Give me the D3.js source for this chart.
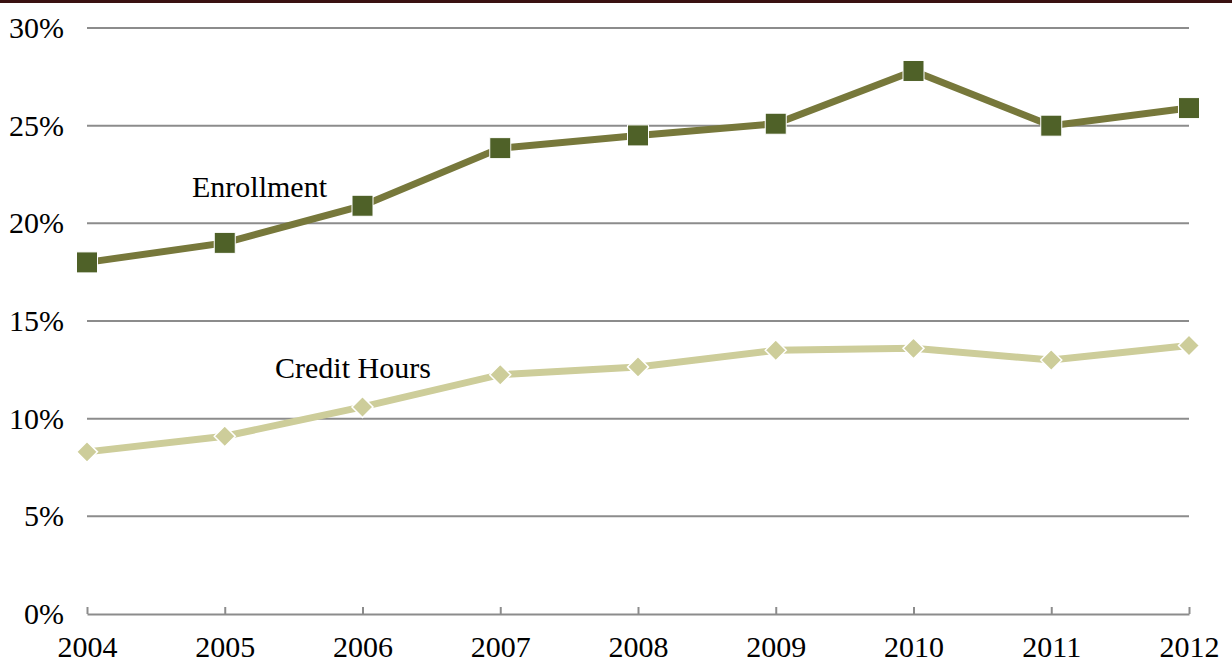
<!DOCTYPE html>
<html>
<head>
<meta charset="utf-8">
<script src="https://cdn.jsdelivr.net/npm/d3@7"></script>
<style>
  body { margin: 0; background: #fff; }
  svg { display: block; font-family: "Liberation Serif", "Times New Roman", serif; }
</style>
</head>
<body>
<svg id="chart" width="1232" height="662"></svg>
<script>
// données
const years = [2004, 2005, 2006, 2007, 2008, 2009, 2010, 2011, 2012];
const enrollment = [18.0, 19.0, 20.9, 23.85, 24.5, 25.1, 27.8, 25.0, 25.9];
const creditHours = [8.3, 9.1, 10.6, 12.25, 12.65, 13.5, 13.6, 13.0, 13.75];
const yTicks = [0, 5, 10, 15, 20, 25, 30];

const svg = d3.select("#chart");
const W = 1232;

// bande sombre en haut
svg.append("rect").attr("x", 0).attr("y", 0).attr("width", W).attr("height", 3).attr("fill", "#3a1212");

const x = d3.scalePoint().domain(years).range([87, 1189]);
const y = d3.scaleLinear().domain([0, 30]).range([614, 28]);

// grille horizontale
svg.append("g")
  .selectAll("line")
  .data(yTicks.filter(d => d > 0))
  .join("line")
  .attr("x1", 87).attr("x2", 1189)
  .attr("y1", d => y(d)).attr("y2", d => y(d))
  .attr("stroke", "#8c8c8c").attr("stroke-width", 2);

// axe Y (étiquettes seulement)
svg.append("g")
  .selectAll("text")
  .data(yTicks)
  .join("text")
  .attr("x", 64)
  .attr("y", d => y(d) + 10)
  .attr("text-anchor", "end")
  .attr("font-size", 30)
  .attr("fill", "#000")
  .text(d => d + "%");

// axe X
const xAxis = svg.append("g")
  .attr("transform", `translate(0,${y(0)})`)
  .call(d3.axisBottom(x).tickSize(-7).tickSizeOuter(0).tickPadding(0));
xAxis.select(".domain").attr("stroke", "#8c8c8c").attr("stroke-width", 2);
xAxis.selectAll(".tick line").attr("stroke", "#8c8c8c").attr("stroke-width", 2);
xAxis.selectAll(".tick text")
  .attr("font-size", 30)
  .attr("font-family", "Liberation Serif, Times New Roman, serif")
  .attr("fill", "#000")
  .attr("dy", null)
  .attr("y", 43);

const line = d3.line().x((d, i) => x(years[i])).y(d => y(d));

// Credit Hours
svg.append("path")
  .datum(creditHours)
  .attr("d", line)
  .attr("fill", "none")
  .attr("stroke", "#cdcd9a")
  .attr("stroke-width", 7);
svg.append("g")
  .selectAll("path")
  .data(creditHours)
  .join("path")
  .attr("transform", (d, i) => `translate(${x(years[i])},${y(d)})`)
  .attr("d", "M0,-10.5L10.5,0L0,10.5L-10.5,0Z")
  .attr("fill", "#cdcd9a")
  .attr("stroke", "#fff")
  .attr("stroke-width", 1.5);

// Enrollment
svg.append("path")
  .datum(enrollment)
  .attr("d", line)
  .attr("fill", "none")
  .attr("stroke", "#77783b")
  .attr("stroke-width", 7);
svg.append("g")
  .selectAll("rect")
  .data(enrollment)
  .join("rect")
  .attr("x", (d, i) => x(years[i]) - 10.5)
  .attr("y", d => y(d) - 10.5)
  .attr("width", 21).attr("height", 21)
  .attr("fill", "#4f6128")
  .attr("stroke", "#fff")
  .attr("stroke-width", 1);

// étiquettes des séries
svg.append("text").attr("x", 192).attr("y", 197).attr("font-size", 30).attr("fill", "#000").text("Enrollment");
svg.append("text").attr("x", 275).attr("y", 378).attr("font-size", 30).attr("fill", "#000").text("Credit Hours");
</script>
</body>
</html>
